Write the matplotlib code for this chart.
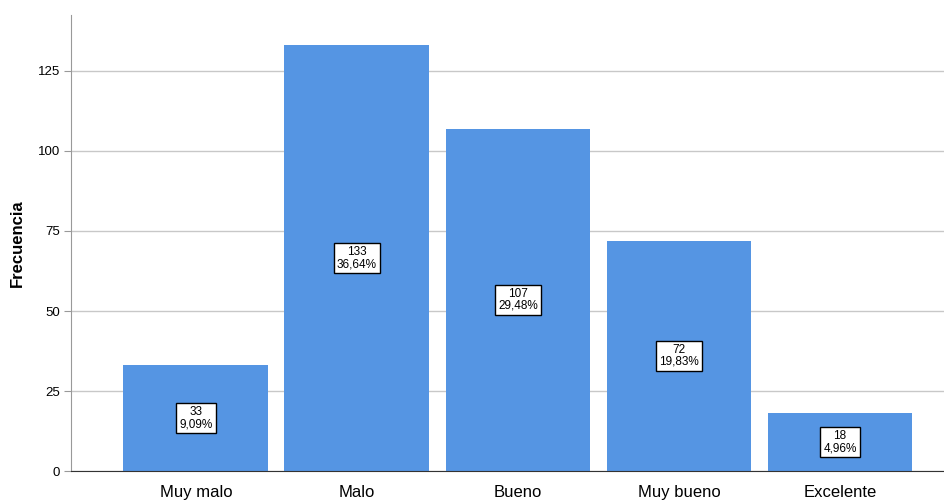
import matplotlib.pyplot as plt

categorias = ["Muy malo", "Malo", "Bueno", "Muy bueno", "Excelente"]
frecuencias = [33, 133, 107, 72, 18]
porcentajes = ["9,09%", "36,64%", "29,48%", "19,83%", "4,96%"]

plt.rcParams["font.family"] = ["Liberation Sans", "DejaVu Sans"]

fig = plt.figure(figsize=(9.44, 5.0), dpi=100)
ax = fig.add_axes([0.0752, 0.058, 0.9248, 0.912])

x = list(range(len(categorias)))
ax.bar(x, frecuencias, width=0.9, color="#5595e3", zorder=2)

for xi, f, p in zip(x, frecuencias, porcentajes):
    ax.text(xi, f / 2, f"{f}\n{p}", ha="center", va="center", fontsize=8.5,
            linespacing=1.0, zorder=3,
            bbox=dict(boxstyle="square,pad=0.25", fc="white", ec="black", lw=1))

ax.set_xlim(-0.776, 4.646)
ax.set_ylim(0, 142.5)
ax.set_yticks([0, 25, 50, 75, 100, 125])
ax.set_xticks(x)
ax.set_xticklabels(categorias, fontsize=12)
ax.tick_params(axis="y", labelsize=9.5, length=5, color="#999999", pad=3)
ax.tick_params(axis="x", length=0, pad=10)
ax.yaxis.grid(True, color="#c8c8c8", lw=1, zorder=0)
ax.set_ylabel("Frecuencia", fontsize=12, fontweight="bold", va="center")
ax.yaxis.set_label_coords(-0.061, 0.5)

for s in ["top", "right"]:
    ax.spines[s].set_visible(False)
ax.spines["left"].set_color("#999999")
ax.spines["bottom"].set_color("#333333")

fig.savefig("out.png", dpi=100)
